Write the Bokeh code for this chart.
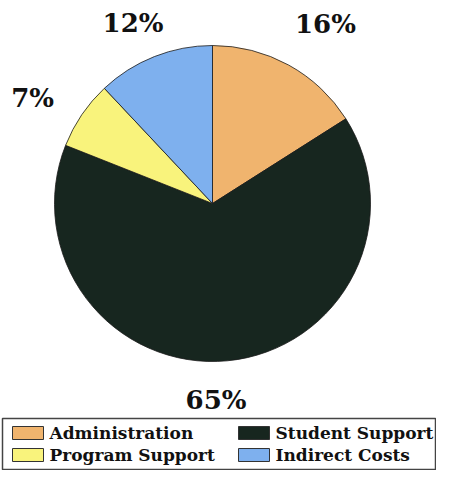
import math
from bokeh.plotting import figure
from bokeh.models import Range1d, ColumnDataSource
from bokeh.core.properties import value
from bokeh.embed import file_html
from bokeh.resources import INLINE

# ---- data ----
categories = ["Administration", "Student Support", "Program Support", "Indirect Costs"]
shares = [16, 65, 7, 12]
labels = ["16%", "65%", "7%", "12%"]
colors = ["#F0B46E", "#17261F", "#F9F37C", "#7EB0EE"]

# ---- layout / style (pixel coordinates measured from the top-left corner) ----
W, H = 436, 470
cx, cy_pix, R = 212, 203, 158
label_r = 197
label_dx = [18, -15, -17, -7]
label_dy = [-7, 0, 5, 3]
FONT = "DejaVu Serif"

def py(y_pix):
    return H - y_pix

p = figure(width=W, height=H, output_backend="svg", toolbar_location=None,
           x_range=Range1d(0, W), y_range=Range1d(0, H),
           min_border=0, background_fill_color="white", border_fill_color="white")
p.axis.visible = False
p.grid.visible = False
p.outline_line_color = None

total = float(sum(shares))
starts, ends, mids = [], [], []
acc = 0.0
for s in shares:
    a0 = math.pi / 2 - 2 * math.pi * acc / total
    acc += s
    a1 = math.pi / 2 - 2 * math.pi * acc / total
    starts.append(a0)
    ends.append(a1)
    mids.append((a0 + a1) / 2)

src = ColumnDataSource(dict(start=starts, end=ends, color=colors, cat=categories))
p.wedge(x=cx, y=py(cy_pix), radius=R, start_angle="start", end_angle="end",
        direction="clock", fill_color="color", line_color="#1a1a1a", line_width=0.8,
        source=src)

lsrc = ColumnDataSource(dict(
    x=[cx + label_r * math.cos(m) for m in mids],
    y=[py(cy_pix) + label_r * math.sin(m) for m in mids],
    xo=label_dx, yo=label_dy, text=labels))
p.text(x="x", y="y", text="text", x_offset="xo", y_offset="yo", source=lsrc,
       text_font=value(FONT), text_font_style="bold", text_font_size="26px",
       text_color="#111111", text_align="center", text_baseline="middle")

# ---- legend ----
box_l, box_r, box_t, box_b = 2, 435, 418, 469
p.quad(left=box_l, right=box_r, top=py(box_t), bottom=py(box_b),
       fill_color=None, line_color="#444444", line_width=1.5)

col_x = [12, 238]
row_y = [426, 448]
sw_w, sw_h = 31, 13
leg_x, leg_y, txt_x, txt_y = [], [], [], []
for i, c in enumerate(categories):
    x0 = col_x[i % 2]
    y0 = row_y[i // 2]
    leg_x.append(x0 + sw_w / 2)
    leg_y.append(py(y0 + sw_h / 2))
    txt_x.append(x0 + sw_w + 6)
    txt_y.append(py(y0 + sw_h / 2))

gsrc = ColumnDataSource(dict(x=leg_x, y=leg_y, tx=txt_x, ty=txt_y,
                             color=colors, text=categories))
p.rect(x="x", y="y", width=sw_w, height=sw_h, fill_color="color",
       line_color="#333333", line_width=1, source=gsrc)
p.text(x="tx", y="ty", text="text", source=gsrc,
       text_font=value(FONT), text_font_style="bold", text_font_size="17px",
       text_color="#111111", text_align="left", text_baseline="middle")

open("out.html", "w").write(file_html(p, INLINE))
